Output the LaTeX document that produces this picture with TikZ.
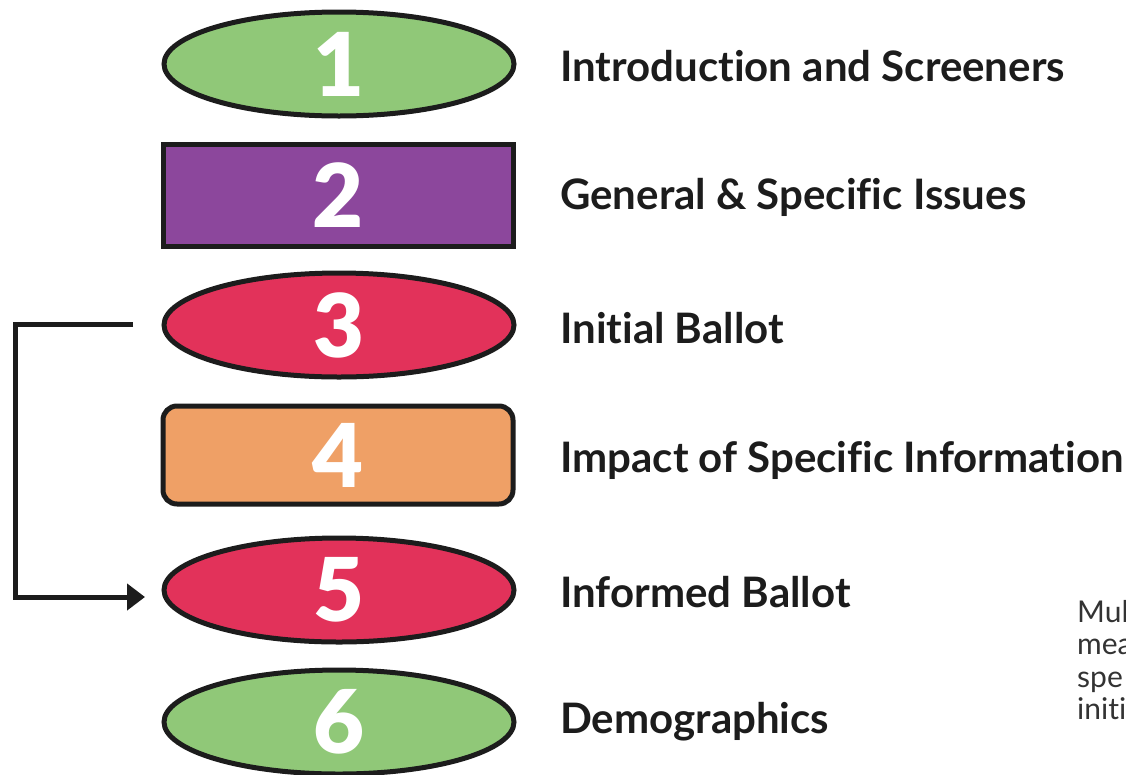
\documentclass[tikz,border=0pt]{standalone}
\usepackage{fontspec}
\setmainfont{Lato}[RawFeature={-liga}]
\newfontfamily\heavy{Lato Black}
\usetikzlibrary{shapes.geometric,arrows.meta}
\definecolor{cgreen}{HTML}{90C878}
\definecolor{cpurple}{HTML}{8C479C}
\definecolor{cred}{HTML}{E2325A}
\definecolor{corange}{HTML}{EFA066}
\definecolor{cline}{HTML}{1C1C1C}
\begin{document}
\begin{tikzpicture}[x=1pt,y=-1pt,
  stage/.style={draw=cline,line width=5pt,minimum width=350pt,text=white,
     font=\heavy\fontsize{88}{88}\selectfont,inner sep=0pt},
  oval/.style={stage,ellipse,minimum height=104pt},
  bar/.style={stage,rectangle,minimum height=102pt},
  lab/.style={anchor=west,font=\bfseries\fontsize{42}{46}\selectfont,text=cline,inner sep=0pt},
  side/.style={anchor=north west,align=left,font=\fontsize{30}{32.5}\selectfont,text=black!80,inner sep=0pt},
  conn/.style={draw=cline,line width=5pt}]
\useasboundingbox (0,0) rectangle (1126,774);
\node[oval,fill=cgreen] (s1) at (339,64) {1};
\node[bar,fill=cpurple] (s2) at (338,195) {2};
\node[oval,fill=cred] (s3) at (339,325) {3};
\node[bar,fill=corange,rounded corners=14pt,minimum height=98pt] (s4) at (338,455) {4};
\node[oval,fill=cred] (s5) at (339,590) {5};
\node[oval,fill=cgreen] (s6) at (339,722) {6};
\node[lab] (l1) at (560,66) {Introduction and Screeners};
\node[lab] (l2) at (560,197) {General \& Specific Issues};
\node[lab] (l3) at (560,328) {Initial Ballot};
\node[lab] (l4) at (560,460) {Impact of Specific Information};
\node[lab] (l5) at (560,592) {Informed Ballot};
\node[lab] (l6) at (560,722) {Demographics};
\node[side] (note) at (1077,600) {Mul\\mea\\spe\\initi};
\coordinate (a0) at (133,324);
\coordinate (a1) at (15,324);
\coordinate (a2) at (15,597);
\coordinate (a3) at (145,597);
\draw[conn,-{Triangle[length=18pt,width=26pt]}] (a0) -- (a1) -- (a2) -- (a3);
\end{tikzpicture}
\end{document}
